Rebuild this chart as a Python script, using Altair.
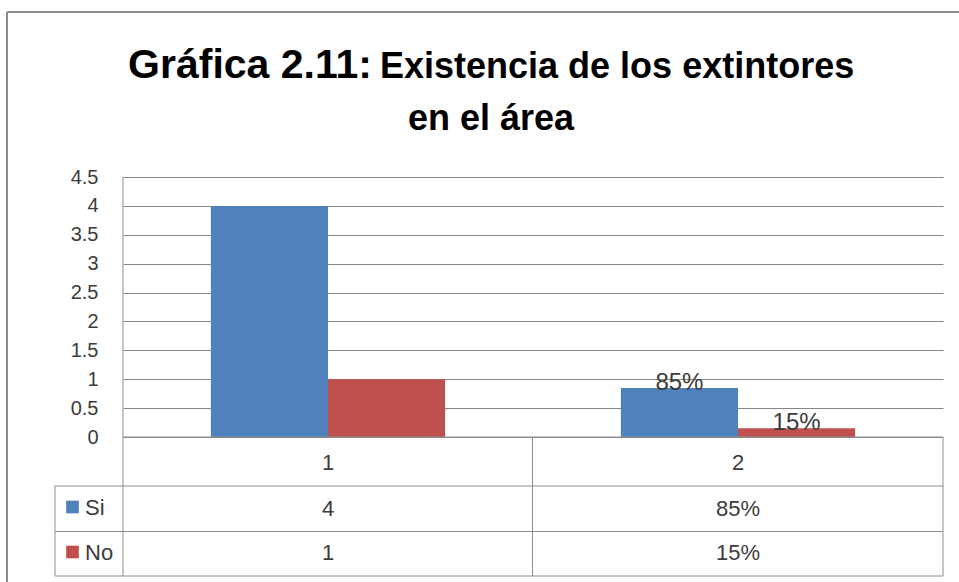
import altair as alt
import pandas as pd

# ---- data ----
categories = ["1", "2"]
series = ["Si", "No"]
si_values = [4, 0.85]
no_values = [1, 0.15]
si_table = ["4", "85%"]
no_table = ["1", "15%"]
si_bar_labels = ["", "85%"]
no_bar_labels = ["", "15%"]
y_ticks = [0, 0.5, 1, 1.5, 2, 2.5, 3, 3.5, 4, 4.5]
colors = ["#4F81BD", "#C0504D"]
title_a = "Gráfica 2.11:"
title_b = "Existencia de los extintores"
title_c = "en el área"

bars_df = pd.DataFrame({
    "category": categories * 2,
    "series": [series[0]] * 2 + [series[1]] * 2,
    "value": si_values + no_values,
    "label": si_bar_labels + no_bar_labels,
})
table_df = pd.DataFrame({"category": categories, "si": si_table, "no": no_table})
dummy = pd.DataFrame({"d": [0]})

W, H = 820, 260
FONT = "Liberation Sans"
TXT = "#3c3c3c"
LINE = "#8e8e8e"

xenc = alt.X("category:N", sort=categories,
             scale=alt.Scale(paddingInner=0.4286, paddingOuter=0.2143), axis=None)
xoff = alt.XOffset("series:N", sort=series, scale=alt.Scale(paddingInner=0, paddingOuter=0))
yaxis = alt.Axis(values=y_ticks, format="~g", grid=True, gridColor="#868686",
                 gridWidth=1, ticks=False, domain=False, labelFont=FONT,
                 labelFontSize=20, labelColor=TXT, labelPadding=25, title=None,
                 labelOverlap=False, tickCount=10)
yenc = alt.Y("value:Q", scale=alt.Scale(domain=[0, 4.5], nice=False), axis=yaxis)
color = alt.Color("series:N", sort=series,
                  scale=alt.Scale(domain=series, range=colors), legend=None)

bars = alt.Chart(bars_df).mark_bar(stroke=None).encode(
    x=xenc, xOffset=xoff, y=yenc, color=color)

labels = alt.Chart(bars_df).mark_text(baseline="alphabetic", dy=2, font=FONT,
                                      fontSize=24, color=TXT).encode(
    x=xenc, xOffset=xoff, y=yenc, text="label:N")


def hline(y, x1, x2, c=LINE, w=1):
    return alt.Chart(dummy).mark_rule(color=c, strokeWidth=w).encode(
        x=alt.value(x1), x2=alt.value(x2), y=alt.value(y))


def vline(x, y1, y2, c=LINE, w=1):
    return alt.Chart(dummy).mark_rule(color=c, strokeWidth=w).encode(
        x=alt.value(x), y=alt.value(y1), y2=alt.value(y2))


def label(text, x, y, size, align="center", weight="normal", col=TXT, baseline="middle"):
    return alt.Chart(pd.DataFrame({"t": [text]})).mark_text(
        font=FONT, fontSize=size, fontWeight=weight, align=align,
        baseline=baseline, color=col).encode(x=alt.value(x), y=alt.value(y), text="t:N")


table_head = alt.Chart(table_df).mark_text(font=FONT, fontSize=22, color=TXT).encode(
    x=xenc, y=alt.value(286), text="category:N")
table_si = alt.Chart(table_df).mark_text(font=FONT, fontSize=22, color=TXT).encode(
    x=xenc, y=alt.value(332), text="si:N")
table_no = alt.Chart(table_df).mark_text(font=FONT, fontSize=22, color=TXT).encode(
    x=xenc, y=alt.value(376), text="no:N")

leg_df = pd.DataFrame({"series": series})
leg_si = alt.Chart(leg_df[leg_df.series == series[0]]).mark_square(size=160, opacity=1).encode(
    x=alt.value(-50.5), y=alt.value(330), color=color)
leg_no = alt.Chart(leg_df[leg_df.series == series[1]]).mark_square(size=160, opacity=1).encode(
    x=alt.value(-50.5), y=alt.value(375), color=color)
leg_si_t = alt.Chart(leg_df[leg_df.series == series[0]]).mark_text(
    font=FONT, fontSize=22, color=TXT, align="left").encode(
    x=alt.value(-38), y=alt.value(331), text="series:N")
leg_no_t = alt.Chart(leg_df[leg_df.series == series[1]]).mark_text(
    font=FONT, fontSize=22, color=TXT, align="left").encode(
    x=alt.value(-38), y=alt.value(376), text="series:N")

layers = [
    # outer chart border
    hline(-165, -116, 840, c="#8c8c8c", w=2),
    vline(-116, -165, 410, c="#8c8c8c", w=2),
    # titles
    label(title_a, 249, -99, 41, align="right", weight="bold", col="#000000", baseline="alphabetic"),
    label(title_b, 257, -99, 36, align="left", weight="bold", col="#000000", baseline="alphabetic"),
    label(title_c, 368, -47, 36, align="center", weight="bold", col="#000000", baseline="alphabetic"),
    bars,
    labels,
    # data table lines
    hline(260, 0, W),
    hline(309, -68, W),
    hline(354.5, -68, W),
    hline(399, -68, W),
    vline(0, 0, 399),
    vline(-68, 309, 399),
    vline(409.5, 260, 399),
    vline(W, 260, 399),
    table_head, table_si, table_no,
    leg_si, leg_no, leg_si_t, leg_no_t,
]

chart = alt.layer(*layers).properties(
    width=W, height=H,
    padding={"left": 123, "top": 177, "right": 16, "bottom": 145},
    autosize="none",
    background="white",
).configure_view(stroke=None)

chart.save("out.html", embed_options={"renderer": "svg", "actions": False})
